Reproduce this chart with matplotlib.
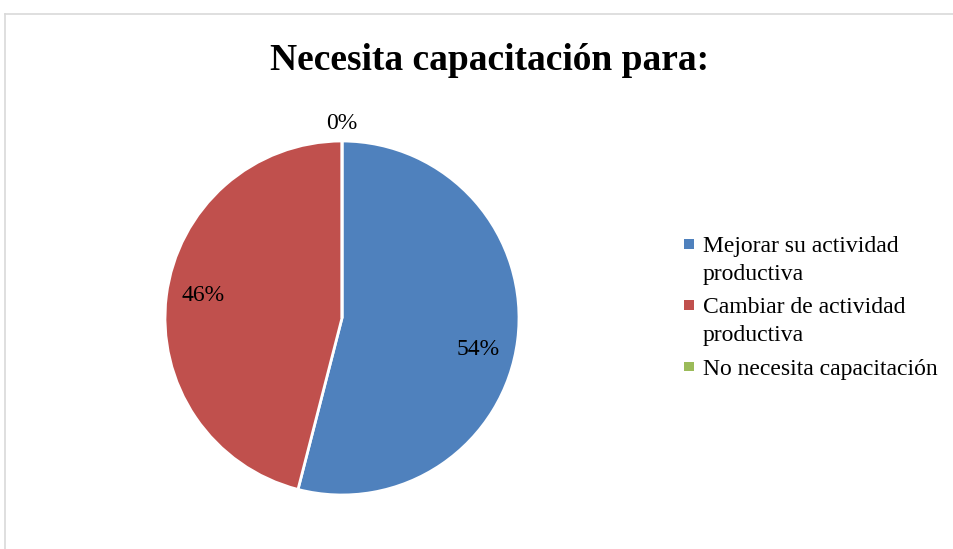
import numpy as np
import matplotlib.pyplot as plt
from matplotlib.patches import Rectangle
from matplotlib.legend_handler import HandlerPatch

plt.rcParams['font.family'] = ['Liberation Serif', 'DejaVu Serif']

labels = ['Mejorar su actividad\nproductiva', 'Cambiar de actividad\nproductiva',
          'No necesita capacitación']
values = [54, 46, 0]
colors = ['#4F81BD', '#C0504D', '#9BBB59']
title = 'Necesita capacitación para:'

W, H = 954, 549
fig = plt.figure(figsize=(W / 100, H / 100), dpi=100)

# chart frame (light grey, open to right/bottom like the crop)
fig.add_artist(plt.Line2D([5 / W, 5 / W], [0, 1 - 14 / H], transform=fig.transFigure,
                          color='#D9D9D9', lw=1.2))
fig.add_artist(plt.Line2D([5 / W, 1], [1 - 14 / H, 1 - 14 / H], transform=fig.transFigure,
                          color='#D9D9D9', lw=1.2))

cx, cy, r = 342, 318, 177
ax = fig.add_axes([(cx - r) / W, (H - cy - r) / H, 2 * r / W, 2 * r / H])
wedges, texts, autotexts = ax.pie(values, colors=colors, startangle=90, counterclock=False,
                                  autopct='%1.0f%%', pctdistance=0.79,
                                  wedgeprops=dict(edgecolor='white', linewidth=2),
                                  textprops=dict(fontsize=17))
ax.set_xlim(-1, 1)
ax.set_ylim(-1, 1)
ax.set_aspect('equal')

# zero slice label sits just outside the top of the pie
autotexts[2].set_position((0, 1.1))
autotexts[0].set_position((0.77, -0.18))
autotexts[1].set_position((-0.785, 0.125))

fig.text(490 / W, 1 - 60 / H, title, ha='center', va='center', fontsize=27, fontweight='bold')


class SquareHandler(HandlerPatch):
    def create_artists(self, legend, orig_handle, xdescent, ydescent, width, height,
                       fontsize, trans):
        s = 0.42 * fontsize
        lift = 0.72 * fontsize * getattr(orig_handle, 'nlines_extra', 0)
        p = Rectangle((width - s - 2, (height - s) / 2 - ydescent + lift), s, s,
                      facecolor=orig_handle.get_facecolor(), edgecolor='none',
                      transform=trans)
        return [p]


handles = []
for lab, c in zip(labels, colors):
    h = Rectangle((0, 0), 1, 1, facecolor=c)
    h.nlines_extra = lab.count('\n')
    handles.append(h)

leg = fig.legend(handles, labels, loc='center left', bbox_to_anchor=(678 / W, 1 - 308 / H),
                 frameon=False, fontsize=17, handlelength=0.8, handletextpad=0.25,
                 labelspacing=0.5, borderpad=0, borderaxespad=0,
                 handler_map={Rectangle: SquareHandler()})
for t in leg.get_texts():
    t.set_linespacing(1.45)

fig.savefig('out.png', dpi=100)
